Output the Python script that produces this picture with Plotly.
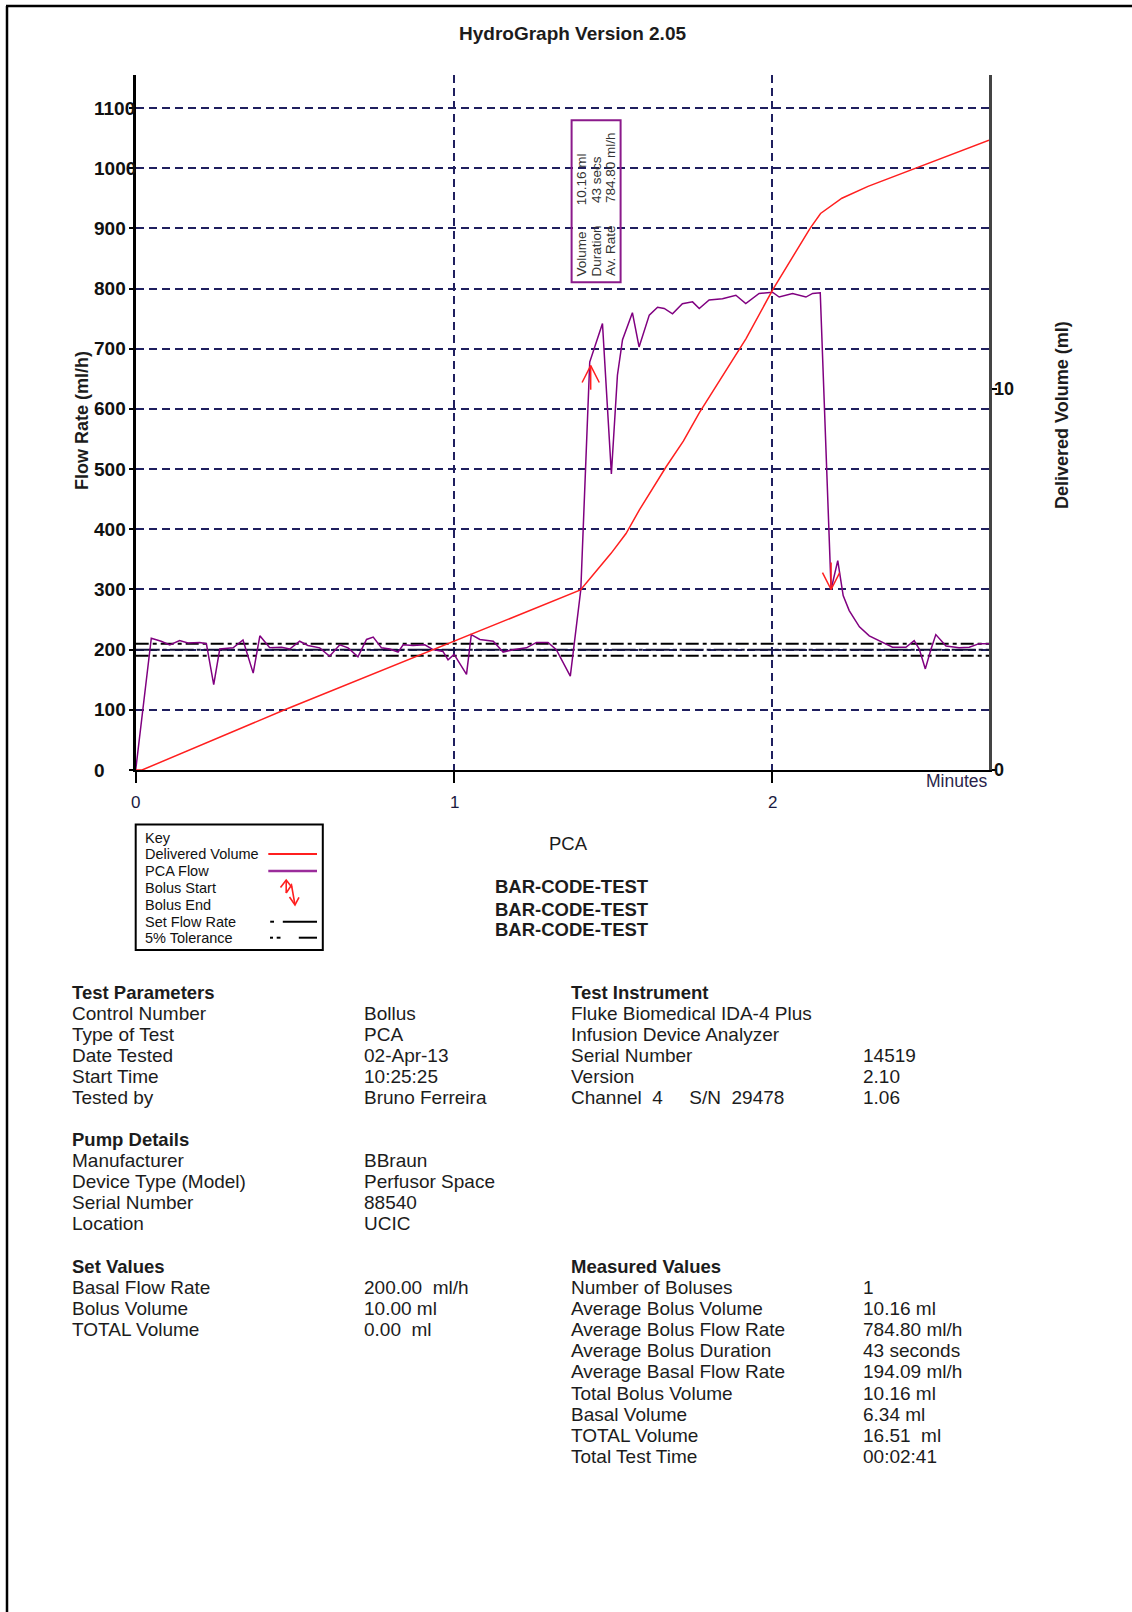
import plotly.graph_objects as go

# ---------------------------------------------------------------- data
# PCA flow readings (minutes, ml/h)
flow_minutes = [
    0.000, 0.049, 0.080, 0.107, 0.138, 0.164, 0.201, 0.222, 0.245, 0.264,
    0.306, 0.337, 0.369, 0.390, 0.421, 0.458, 0.484, 0.515, 0.541, 0.578,
    0.609, 0.641, 0.667, 0.698, 0.725, 0.746, 0.772, 0.798, 0.824, 0.840,
    0.871, 0.908, 0.934, 0.965, 0.981, 1.000, 1.039, 1.054, 1.081, 1.123,
    1.154, 1.185, 1.227, 1.259, 1.295, 1.321, 1.365, 1.398, 1.426, 1.466,
    1.494, 1.513, 1.529, 1.560, 1.581, 1.613, 1.639, 1.660, 1.686, 1.717,
    1.749, 1.770, 1.801, 1.843, 1.885, 1.916, 1.958, 2.000, 2.021, 2.063,
    2.105, 2.126, 2.150, 2.184, 2.205, 2.222, 2.241, 2.273, 2.304, 2.346,
    2.377, 2.419, 2.445, 2.461, 2.480, 2.498, 2.513, 2.545, 2.586, 2.618,
    2.649, 2.680,
]
flow_rate = [
    0, 219, 214, 208, 215, 211, 212, 210, 142, 201,
    203, 216, 161, 223, 203, 204, 201, 214, 207, 203,
    189, 208, 203, 188, 217, 221, 203, 201, 196, 208,
    207, 208, 200, 197, 183, 192, 159, 225, 217, 214,
    196, 200, 203, 212, 212, 200, 156, 300, 678, 742,
    492, 656, 715, 760, 703, 756, 769, 767, 758, 775,
    778, 767, 781, 783, 789, 775, 792, 794, 786, 792,
    786, 792, 793, 300, 348, 290, 265, 238, 223, 212,
    204, 204, 215, 201, 168, 201, 225, 206, 203, 204,
    210, 210,
]

# Cumulative delivered volume (minutes, ml)
vol_minutes = [0.000, 0.020, 0.468, 0.934, 1.000, 1.397, 1.440, 1.493, 1.540,
               1.582, 1.666, 1.720, 1.770, 1.840, 1.917, 2.000, 2.073, 2.118,
               2.151, 2.218, 2.300, 2.465, 2.680]
delivered_ml = [0.00, 0.00, 1.58, 3.16, 3.37, 4.72, 5.15, 5.68, 6.20,
                6.82, 7.95, 8.62, 9.36, 10.30, 11.31, 12.58, 13.58, 14.20,
                14.59, 14.99, 15.30, 15.83, 16.51]

set_rate = 200.0          # ml/h
tolerance_pct = 5.0       # %
test_minutes = 2.68       # 00:02:41

# Bolus markers: (minute, flow at arrow tip)
bolus_start = [1.429, 672]
bolus_end = [2.184, 300]

flow_ticks = [0, 100, 200, 300, 400, 500, 600, 700, 800, 900, 1000, 1100]
volume_ticks = [0, 10]
time_ticks = [0, 1, 2]

bolus_summary_labels = ["Volume", "Duration", "Av. Rate"]
bolus_summary_values = ["10.16 ml", "43 secs", "784.80 ml/h"]

legend_labels = ["Key", "Delivered Volume", "PCA Flow", "Bolus Start",
                 "Bolus End", "Set Flow Rate", "5% Tolerance"]

test_param_labels = ["Control Number", "Type of Test", "Date Tested", "Start Time", "Tested by"]
test_param_values = ["Bollus", "PCA", "02-Apr-13", "10:25:25", "Bruno Ferreira"]
pump_labels = ["Manufacturer", "Device Type (Model)", "Serial Number", "Location"]
pump_values = ["BBraun", "Perfusor Space", "88540", "UCIC"]
instrument_labels = ["Fluke Biomedical IDA-4 Plus", "Infusion Device Analyzer",
                     "Serial Number", "Version",
                     "Channel\u00a0\u00a04\u00a0\u00a0\u00a0\u00a0\u00a0S/N\u00a0\u00a029478"]
instrument_values = ["", "", "14519", "2.10", "1.06"]
set_labels = ["Basal Flow Rate", "Bolus Volume", "TOTAL Volume"]
set_values = ["200.00\u00a0\u00a0ml/h", "10.00 ml", "0.00\u00a0\u00a0ml"]
measured_labels = ["Number of Boluses", "Average Bolus Volume", "Average Bolus Flow Rate",
                   "Average Bolus Duration", "Average Basal Flow Rate", "Total Bolus Volume",
                   "Basal Volume", "TOTAL Volume", "Total Test Time"]
measured_values = ["1", "10.16 ml", "784.80 ml/h", "43 seconds", "194.09 ml/h",
                   "10.16 ml", "6.34 ml", "16.51\u00a0\u00a0ml", "00:02:41"]

# ---------------------------------------------------------------- styling
W, H = 1132, 1612
PLOT_L, PLOT_R, PLOT_T, PLOT_B = 135.7, 989.0, 75.0, 770.0
FLOW_MAX = 1155
NAVY = "#1f1f5e"
RED = "#ff1f1f"
PURPLE = "#800080"
INK = "#1c1c1c"
SANS = "Liberation Sans, Arial, sans-serif"
NARROW = "Liberation Sans Narrow, Arial Narrow, Liberation Sans, sans-serif"
GRID_DASH = "8px,5px"
NB = "\u00a0"


def fx(px):
    return px / W


def fy(py):
    return 1 - py / H


def minute_to_px(t):
    return PLOT_L + t / test_minutes * (PLOT_R - PLOT_L)


def flow_to_px(f):
    return PLOT_B - f / FLOW_MAX * (PLOT_B - PLOT_T)


fig = go.Figure()

# Set flow rate and tolerance band
tol_hi = set_rate * (1 + tolerance_pct / 100)
tol_lo = set_rate * (1 - tolerance_pct / 100)
for level in (tol_hi, tol_lo):
    fig.add_trace(go.Scatter(x=[0, test_minutes], y=[level, level], mode="lines",
                             line=dict(color="black", width=2, dash="13px,4px,4px,4px"),
                             hoverinfo="skip"))
fig.add_trace(go.Scatter(x=[0, test_minutes], y=[set_rate, set_rate], mode="lines",
                         line=dict(color="#14143a", width=2, dash="24px,3px,4px,3px"),
                         hoverinfo="skip"))

# PCA flow
fig.add_trace(go.Scatter(x=flow_minutes, y=flow_rate, mode="lines",
                         line=dict(color=PURPLE, width=1.5)))

# Bolus start / end arrows
DX, WING, SHAFT = 0.027, 28, 40
t0, f0 = bolus_start
t1, f1 = bolus_end
arrow_x = [t0, t0, None, t0 - DX, t0, t0 + DX, None,
           t1, t1, None, t1 - DX, t1, t1 + DX]
arrow_y = [f0 - SHAFT, f0, None, f0 - WING, f0, f0 - WING, None,
           f1 + SHAFT + 5, f1, None, f1 + WING, f1, f1 + WING]
fig.add_trace(go.Scatter(x=arrow_x, y=arrow_y, mode="lines",
                         line=dict(color=RED, width=1.5), hoverinfo="skip"))

# Delivered volume on the secondary axis
fig.add_trace(go.Scatter(x=vol_minutes, y=delivered_ml, mode="lines", yaxis="y2",
                         line=dict(color=RED, width=1.5)))

ann = []


def text(x, y, s, size, bold=False, xanchor="left", yanchor="middle", color=INK,
         family=SANS, xref="paper", yref="paper", angle=0):
    ann.append(dict(x=x, y=y, xref=xref, yref=yref, text=f"<b>{s}</b>" if bold else s,
                    showarrow=False, xanchor=xanchor, yanchor=yanchor, textangle=angle,
                    font=dict(family=family, size=size, color=color)))


# Axis tick labels
for v in flow_ticks:
    text(fx(92), v, str(v), 19, bold=True, yref="y", color="#111")
for v in volume_ticks:
    text(fx(992), v, str(v), 18, bold=True, yref="y2", color="#111")
for v in time_ticks:
    text(v, fy(802), str(v), 17, xanchor="center", xref="x", color="#1a1a40")
text(fx(990), fy(781), "Minutes", 17.5, xanchor="right", color="#2a1f4a")

# Axis titles and page title
text(fx(82), fy(421), "Flow Rate (ml/h)", 18, bold=True, xanchor="center", angle=-90)
text(fx(1062), fy(415), "Delivered Volume (ml)", 18, bold=True, xanchor="center", angle=-90)
text(fx(572), fy(33), "HydroGraph Version 2.05", 19, bold=True, xanchor="center", family=NARROW)

# Bolus summary box, placed beside the bolus start marker
box_cx = minute_to_px(t0 + 0.017)
box_cy = flow_to_px(945)
BOX_W, BOX_H = 49, 162
shapes = []
shapes.append(dict(type="rect", xref="paper", yref="paper",
                   x0=fx(box_cx - BOX_W / 2), x1=fx(box_cx + BOX_W / 2),
                   y0=fy(box_cy + BOX_H / 2), y1=fy(box_cy - BOX_H / 2),
                   line=dict(color="#8b1a8b", width=2)))
pads = [7, 6, 6]
for i, (lab, val, p) in enumerate(zip(bolus_summary_labels, bolus_summary_values, pads)):
    text(fx(box_cx + (i - 1) * 14.5), fy(box_cy + BOX_H / 2 - 4), lab + NB * p + val, 13.5,
         xanchor="center", yanchor="bottom", color="#333", angle=-90)

# Legend (key) text
key_rows = [838, 854, 871, 888, 905, 921.7, 937.7]
for lab, y in zip(legend_labels, key_rows):
    text(fx(142.6), fy(y), lab, 14.5, color="#111")

# Centre captions
text(fx(568.6), fy(844), "PCA", 18.5, xanchor="center")
for y in (887, 909, 930):
    text(fx(571.7), fy(y), "BAR-CODE-TEST", 18.5, bold=True, xanchor="center")

# Report tables
ROW = 21.05


def table(x_lab, x_val, y_head, head, labels, values):
    text(fx(x_lab), fy(y_head), head, 18.5, bold=True)
    for i, (lab, val) in enumerate(zip(labels, values)):
        y = y_head + ROW * (i + 1)
        text(fx(x_lab), fy(y), lab, 19)
        if val:
            text(fx(x_val), fy(y), val, 19)


table(70, 362, 992.2, "Test Parameters", test_param_labels, test_param_values)
table(569, 861, 992.2, "Test Instrument", instrument_labels, instrument_values)
table(70, 362, 1139.2, "Pump Details", pump_labels, pump_values)
table(70, 362, 1266.7, "Set Values", set_labels, set_values)
table(569, 861, 1266.7, "Measured Values", measured_labels, measured_values)


# ---------------------------------------------------------------- shapes
def seg(x0, y0, x1, y1, color="black", width=2, dash="solid"):
    shapes.append(dict(type="line", xref="paper", yref="paper",
                       x0=fx(x0), y0=fy(y0), x1=fx(x1), y1=fy(y1),
                       line=dict(color=color, width=width, dash=dash)))


def path(points, color, width=1.6):
    d = "M" + " L".join(f"{fx(x):.5f},{fy(y):.5f}" for x, y in points)
    shapes.append(dict(type="path", xref="paper", yref="paper", path=d,
                       line=dict(color=color, width=width)))


# Page frame
seg(6, 6, W, 6, width=2.5)
seg(7, 6, 7, H, width=2.5)

# Key box
shapes.append(dict(type="rect", xref="paper", yref="paper",
                   x0=fx(135.7), x1=fx(322.8), y0=fy(824.6), y1=fy(950),
                   line=dict(color="black", width=2)))
seg(268.3, 854, 317, 854, color=RED, width=2)
seg(268.3, 871, 317, 871, color="#9b2c9b", width=2.5)
path([(286.2, 893), (286.2, 880)], RED)
path([(280.5, 887.5), (286.2, 880), (292, 887.5)], RED)
path([(286.2, 893), (291.5, 885), (295, 905)], RED)
path([(289.5, 897), (295, 905), (299, 897.5)], RED)
seg(270.2, 921.7, 274, 921.7)
seg(282.8, 921.7, 317, 921.7)
seg(270, 937.7, 273, 937.7)
seg(276.7, 937.7, 280.5, 937.7)
seg(298.8, 937.7, 317, 937.7)

# ---------------------------------------------------------------- layout
fig.update_layout(
    width=W, height=H, autosize=False,
    margin=dict(l=0, r=0, t=0, b=0),
    paper_bgcolor="white", plot_bgcolor="white",
    showlegend=False,
    xaxis=dict(domain=[fx(PLOT_L), fx(PLOT_R)], range=[0, test_minutes],
               tickvals=time_ticks, showticklabels=False, ticks="outside",
               ticklen=11, tickwidth=2, tickcolor="black",
               showline=True, linecolor="black", linewidth=2,
               showgrid=True, gridcolor=NAVY, gridwidth=2, griddash=GRID_DASH,
               zeroline=False, fixedrange=True),
    yaxis=dict(domain=[fy(PLOT_B), fy(PLOT_T)], range=[0, FLOW_MAX],
               tickvals=flow_ticks, showticklabels=False, ticks="outside",
               ticklen=4, tickwidth=2, tickcolor="black",
               showline=True, linecolor="black", linewidth=3,
               showgrid=True, gridcolor=NAVY, gridwidth=2, griddash=GRID_DASH,
               zeroline=False, fixedrange=True),
    yaxis2=dict(overlaying="y", side="right", anchor="x", range=[0, 18.22],
                tickvals=volume_ticks, showticklabels=False, ticks="outside",
                ticklen=5, tickwidth=2, tickcolor="black",
                showline=True, linecolor="#444", linewidth=3,
                showgrid=False, zeroline=False, fixedrange=True),
    annotations=ann,
    shapes=shapes,
)

fig.write_html("out.html")
